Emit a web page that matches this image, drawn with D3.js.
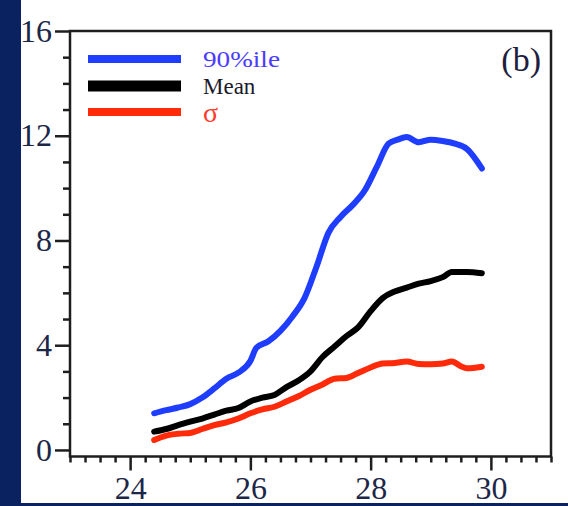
<!DOCTYPE html>
<html><head><meta charset="utf-8">
<script src="https://cdn.jsdelivr.net/npm/d3@7"></script>
<style>html,body{margin:0;padding:0;background:#0b2260;}svg{display:block;}</style>
</head><body>
<script>
const xP90 = [24.4,24.6,24.8,25.0,25.2,25.4,25.6,25.8,26.0,26.1,26.3,26.5,26.7,26.9,27.1,27.3,27.5,27.7,27.9,28.1,28.3,28.45,28.6,28.8,29.0,29.2,29.4,29.6,29.85];
const p90  = [1.4,1.52,1.62,1.75,2.0,2.35,2.72,2.95,3.4,3.9,4.15,4.55,5.1,5.8,7.0,8.3,8.9,9.35,9.9,10.8,11.7,11.85,11.95,11.75,11.85,11.8,11.7,11.5,10.75];
const xMean = [24.4,24.6,24.8,25.0,25.2,25.4,25.6,25.8,26.0,26.2,26.4,26.6,26.8,27.0,27.2,27.4,27.6,27.8,28.0,28.2,28.4,28.6,28.8,29.0,29.2,29.35,29.6,29.85];
const mean  = [0.7,0.8,0.95,1.08,1.2,1.35,1.5,1.6,1.85,2.0,2.1,2.4,2.65,3.0,3.55,3.95,4.35,4.7,5.3,5.8,6.05,6.2,6.35,6.45,6.6,6.8,6.8,6.75];
const xSig = [24.4,24.6,24.8,25.0,25.2,25.4,25.6,25.8,26.0,26.2,26.4,26.6,26.8,27.0,27.2,27.4,27.6,27.8,28.0,28.2,28.4,28.6,28.8,29.0,29.2,29.35,29.5,29.6,29.85];
const sigma = [0.38,0.55,0.62,0.65,0.8,0.95,1.05,1.2,1.4,1.55,1.65,1.85,2.05,2.3,2.5,2.72,2.75,2.95,3.15,3.3,3.32,3.38,3.28,3.27,3.3,3.38,3.2,3.12,3.18];
const xTicks = [24,26,28,30];
const yTicks = [0,4,8,12,16];
const seriesNames = ["90%ile","Mean","σ"];
const seriesColors = ["#1f3dff","#000000","#ff2a0a"];

const W=568,H=506;
const svg=d3.select("body").append("svg").attr("width",W).attr("height",H);
svg.append("rect").attr("x",0).attr("y",0).attr("width",W).attr("height",H).attr("fill","#0b2260");
svg.append("rect").attr("x",21).attr("y",0).attr("width",W-21).attr("height",503).attr("fill","#ffffff");

const x=d3.scaleLinear().domain([23,31]).range([70,551]);
const y=d3.scaleLinear().domain([-0.25,16]).range([456.5,31]);
const ink="#1e1e1e", lab="#1c2748";

// data lines
const series=[[xP90,p90],[xMean,mean],[xSig,sigma]];
const line=d3.line().x(d=>x(d[0])).y(d=>y(d[1])).curve(d3.curveMonotoneX);
series.forEach((s,i)=>{
  svg.append("path").datum(d3.zip(s[0],s[1])).attr("d",line)
    .attr("fill","none").attr("stroke",seriesColors[i]).attr("stroke-width",6)
    .attr("stroke-linejoin","round").attr("stroke-linecap","round");
});

// axes
const fnt="'Liberation Serif','Times New Roman',Times,serif";
const xMinor=d3.range(23,31.001,0.25).filter(v=>!xTicks.includes(v));
const yMinor=d3.range(0,16.001,1).filter(v=>!yTicks.includes(v));
const gx=svg.append("g").attr("transform",`translate(0,${y(-0.25)})`);
gx.call(d3.axisBottom(x).tickValues(xMinor).tickSize(6).tickFormat(""));
const gx2=svg.append("g").attr("transform",`translate(0,${y(-0.25)})`);
gx2.call(d3.axisBottom(x).tickValues(xTicks).tickSize(14).tickPadding(7).tickFormat(d3.format("d")));
const gy=svg.append("g").attr("transform",`translate(${x(23)},0)`);
gy.call(d3.axisLeft(y).tickValues(yMinor).tickSize(7).tickFormat(""));
const gy2=svg.append("g").attr("transform",`translate(${x(23)},0)`);
gy2.call(d3.axisLeft(y).tickValues(yTicks).tickSize(15).tickPadding(3).tickFormat(d3.format("d")));
[gx,gx2,gy,gy2].forEach(g=>{
  g.selectAll("path.domain").remove();
  g.selectAll(".tick line").attr("stroke",ink).attr("stroke-width",2.5);
  g.selectAll(".tick text").attr("fill",lab).attr("font-family",fnt).attr("font-size",32);
});
gx2.selectAll(".tick text").attr("dy","0.68em");
// frame
svg.append("rect").attr("x",x(23)).attr("y",y(16)).attr("width",x(31)-x(23)).attr("height",y(-0.25)-y(16))
  .attr("fill","none").attr("stroke",ink).attr("stroke-width",2.5);

// legend
const legY=[59,86,112], legW=[8,11,8];
const legSize=[23,23,28];
seriesNames.forEach((n,i)=>{
  svg.append("line").attr("x1",88).attr("x2",181).attr("y1",legY[i]).attr("y2",legY[i])
    .attr("stroke",seriesColors[i]).attr("stroke-width",legW[i]);
  const t=svg.append("text").attr("x",203).attr("y",legY[i]).attr("dy","0.35em")
    .attr("font-family",fnt).attr("font-size",legSize[i])
    .attr("fill",i===0?"#4a3cff":(i===1?"#1a1a2a":"#ff3a2a")).text(n);
  if(i===0) t.attr("textLength",77).attr("lengthAdjust","spacingAndGlyphs");
});
svg.append("text").attr("x",541).attr("y",71).attr("text-anchor","end")
  .attr("font-family",fnt).attr("font-size",34).attr("fill","#1e1e40").text("(b)");
</script>
</body></html>
